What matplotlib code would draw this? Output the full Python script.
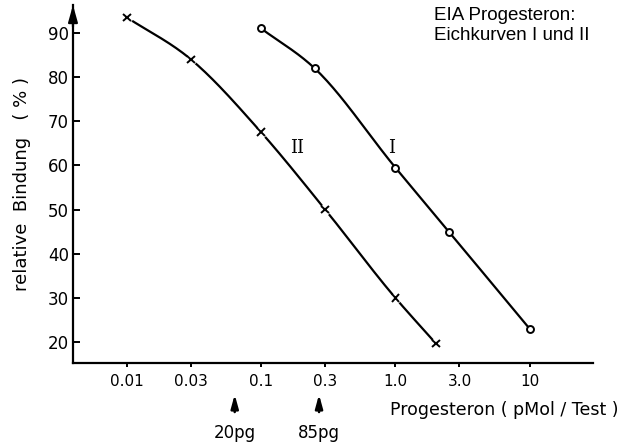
import numpy as np
import matplotlib
matplotlib.use('Agg')
import matplotlib.pyplot as plt
import matplotlib.patheffects as pe

# Eichkurve I (offene Kreise) und II (Kreuze)
dose_I = [0.1, 0.25, 1.0, 2.5, 10.0]
bind_I = [91.0, 82.0, 59.5, 45.0, 23.0]
dose_II = [0.01, 0.03, 0.1, 0.3, 1.0, 2.0]
bind_II = [93.5, 84.0, 67.5, 50.0, 30.0, 19.7]

xticks = [0.01, 0.03, 0.1, 0.3, 1.0, 3.0, 10]
xticklabels = ['0.01', '0.03', '0.1', '0.3', '1.0', '3.0', '10']
yticks = [20, 30, 40, 50, 60, 70, 80, 90]

# Markierungen unter der x-Achse (pg -> pMol)
marks_dose = [0.0636, 0.27]
marks_text = ['20pg', '85pg']


def smooth(xs, ys, n=40):
    # cubic Hermite in log-x, only for drawing the hand-drawn curve
    lx = np.log10(xs)
    ys = np.asarray(ys, float)
    m = np.gradient(ys, lx)
    out_x, out_y = [], []
    for i in range(len(lx) - 1):
        h = lx[i + 1] - lx[i]
        t = np.linspace(0, 1, n)
        h00 = 2*t**3 - 3*t**2 + 1
        h10 = t**3 - 2*t**2 + t
        h01 = -2*t**3 + 3*t**2
        h11 = t**3 - t**2
        out_x.append(lx[i] + t*h)
        out_y.append(h00*ys[i] + h10*h*m[i] + h01*ys[i+1] + h11*h*m[i+1])
    return 10**np.concatenate(out_x), np.concatenate(out_y)


fig = plt.figure(figsize=(6.2, 4.48), dpi=100)
ax = fig.add_axes([0.1177, 0.1897, 0.838, 0.799])
ax.set_xscale('log')
ax.set_xlim(0.00397, 29.4)
ax.set_ylim(15.25, 96.3)

halo = [pe.Stroke(linewidth=5, foreground='white'), pe.Normal()]

sx, sy = smooth(dose_II, bind_II)
ax.plot(sx, sy, color='k', lw=1.6, solid_capstyle='butt')
ax.plot(dose_II, bind_II, ls='none', marker='x', ms=5.5, mew=1.4, color='k',
        path_effects=halo)

sx, sy = smooth(dose_I, bind_I)
ax.plot(sx, sy, color='k', lw=1.6, solid_capstyle='butt')
ax.plot(dose_I, bind_I, ls='none', marker='o', ms=5, mew=1.4, mec='k', mfc='white')

ax.text(0.185, 64, 'II', family='DejaVu Serif', fontsize=13, ha='center', va='center')
ax.text(0.94, 64, 'I', family='DejaVu Serif', fontsize=13, ha='center', va='center')

# Achsen
for s in ['top', 'right']:
    ax.spines[s].set_visible(False)
for s in ['left', 'bottom']:
    ax.spines[s].set_linewidth(1.6)
ax.annotate('', xy=(0, 1.0), xytext=(0, 0.94), xycoords='axes fraction',
            arrowprops=dict(arrowstyle='-|>,head_length=1.0,head_width=0.28',
                            color='k', lw=1.6, shrinkA=0, shrinkB=0))

ax.set_yticks(yticks)
ax.set_yticklabels([str(v) for v in yticks])
ax.set_xticks(xticks)
ax.set_xticklabels(xticklabels)
ax.xaxis.set_minor_locator(matplotlib.ticker.NullLocator())
ax.tick_params(axis='y', direction='in', length=5, width=1.4, labelsize=12, pad=3)
ax.tick_params(axis='x', direction='out', length=3, width=1.4, labelsize=11, pad=5)

ax.set_ylabel('relative  Bindung   ( % )', fontsize=13, labelpad=12)
fig.text(0.997, 0.085, 'Progesteron ( pMol / Test )', fontsize=12.5,
         ha='right', va='center')

fig.text(0.70, 0.985, 'EIA Progesteron:\nEichkurven I und II',
         family='Liberation Sans', fontsize=13.5, ha='left', va='top',
         linespacing=1.25)

trans = ax.get_xaxis_transform()
for d, t in zip(marks_dose, marks_text):
    ax.annotate('', xy=(d, -0.088), xytext=(d, -0.137), xycoords=trans,
                textcoords=trans,
                arrowprops=dict(arrowstyle='-|>,head_length=0.8,head_width=0.22',
                                color='k', lw=1.8, shrinkA=0, shrinkB=0))
    ax.text(d, -0.196, t, transform=trans, fontsize=12, ha='center', va='center')

fig.savefig('out.png', dpi=100)
